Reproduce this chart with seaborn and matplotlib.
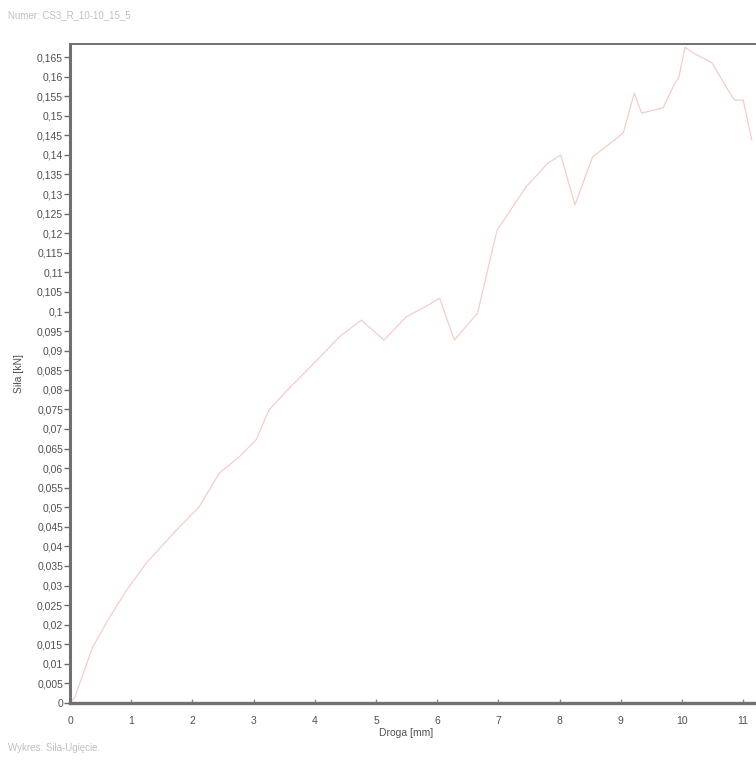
import numpy as np
import pandas as pd
import matplotlib
matplotlib.use("Agg")
import matplotlib.pyplot as plt
from matplotlib.ticker import FuncFormatter, MultipleLocator, FixedLocator
import seaborn as sns

# Force-displacement record (displacement in mm, force in kN)
droga_mm = [0.0, 0.08, 0.37, 0.65, 0.93, 1.25, 1.74, 2.11, 2.44, 2.76, 3.04,
            3.25, 3.60, 4.04, 4.40, 4.76, 5.13, 5.49, 5.86, 6.04, 6.28, 6.66,
            6.90, 6.98, 7.45, 7.81, 8.02, 8.25, 8.54, 8.83, 9.04, 9.22, 9.34,
            9.69, 9.87, 9.95, 10.05, 10.19, 10.49, 10.75, 10.86, 11.0, 11.14]
sila_kn = [0.0, 0.0015, 0.0143, 0.0220, 0.0289, 0.0358, 0.0442, 0.0501, 0.0587,
           0.0628, 0.0672, 0.0748, 0.0807, 0.0876, 0.0935, 0.0978, 0.0927,
           0.0986, 0.1017, 0.1034, 0.0927, 0.0996, 0.1157, 0.1208, 0.1318,
           0.1379, 0.1400, 0.1272, 0.1395, 0.1430, 0.1456, 0.1558, 0.1507,
           0.1520, 0.1579, 0.1599, 0.1675, 0.1660, 0.1635, 0.1566, 0.1540,
           0.1540, 0.1438]
x_ticks = [0, 1, 2, 3, 4, 5, 6, 7, 8, 9, 10, 11]

title_text = "Numer: CS3_R_10-10_15_5"
footer_text = "Wykres: Siła-Ugięcie."
x_label = "Droga [mm]"
y_label = "Siła [kN]"

sns.set_theme(style="white")
plt.rcParams["font.family"] = ["Liberation Sans", "DejaVu Sans"]

df = pd.DataFrame({"droga": droga_mm, "sila": sila_kn})

W, H = 756, 765
fig = plt.figure(figsize=(W / 100, H / 100), dpi=100)
left, bottom, top_px = 70, 703, 44
px_per_mm = 61.2
x_max = 11.25
ax = fig.add_axes([left / W, (H - bottom) / H, x_max * px_per_mm / W, (bottom - top_px) / H])

sns.lineplot(data=df, x="droga", y="sila", ax=ax, sort=False,
             color="#f5cccc", linewidth=0.9, estimator=None)

ax.set_xlim(0, x_max)
ax.set_ylim(0, (bottom - top_px) / 3915.0)

ax.xaxis.set_major_locator(FixedLocator(x_ticks))
ax.yaxis.set_major_locator(MultipleLocator(0.005))


def comma_fmt(v, pos):
    if abs(v) < 1e-9:
        return "0"
    s = f"{v:.3f}".rstrip("0").rstrip(".")
    return s.replace(".", ",")


ax.yaxis.set_major_formatter(FuncFormatter(comma_fmt))
ax.xaxis.set_major_formatter(FuncFormatter(lambda v, p: f"{int(round(v))}"))

tick_col = "#505050"
ax.tick_params(axis="y", which="major", direction="out", length=4, width=1,
               color="#6a6a6a", labelsize=7.5, labelcolor=tick_col, pad=1, left=True)
ax.tick_params(axis="x", which="major", direction="in", length=3, width=1,
               color="#8a8a8a", labelsize=7.5, labelcolor=tick_col, pad=9, bottom=True)

for side in ["left", "bottom", "top"]:
    ax.spines[side].set_visible(True)
    ax.spines[side].set_color("#707070")
ax.spines["left"].set_linewidth(2.2)
ax.spines["bottom"].set_linewidth(2.4)
ax.spines["top"].set_linewidth(1.4)
ax.spines["right"].set_visible(False)

ax.set_xlabel(x_label, fontsize=7.5, color=tick_col)
ax.xaxis.set_label_coords(5.5 / x_max, -0.038)
ax.set_ylabel(y_label, fontsize=7.5, color=tick_col)
ax.yaxis.set_label_coords(-46 / (x_max * px_per_mm), 0.5)
ax.grid(False)

fig.text(8 / W, 1 - 15 / H, title_text, fontsize=7, color="#c0c0c0",
         ha="left", va="center")
fig.text(8 / W, 1 - 748 / H, footer_text, fontsize=7, color="#c0c0c0",
         ha="left", va="center")

fig.savefig("out.png", dpi=100, facecolor="white")
